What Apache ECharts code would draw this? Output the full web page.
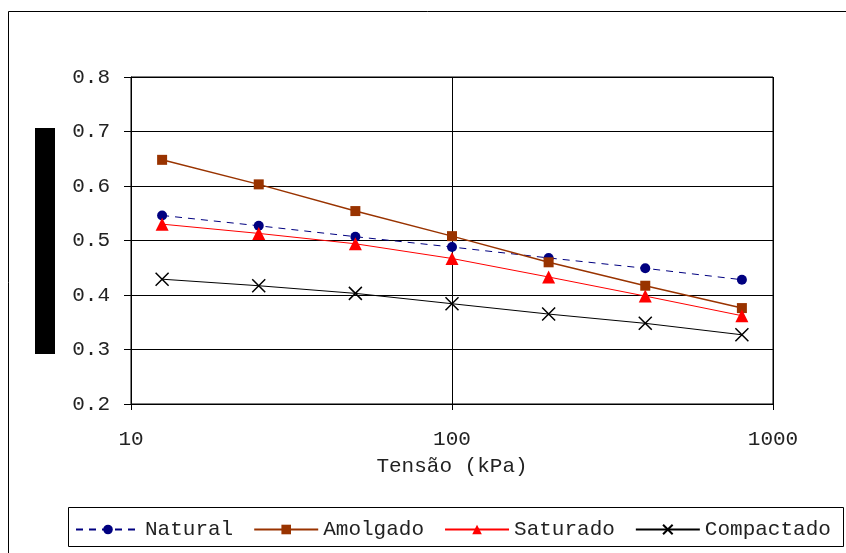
<!DOCTYPE html>
<html><head><meta charset="utf-8">
<script src="https://cdn.jsdelivr.net/npm/echarts@6/dist/echarts.min.js"></script>
<style>html,body{margin:0;padding:0;background:#fff}#c{width:846px;height:553px}</style>
</head><body><div id="c"></div>
<script>
const tensao = [12.5, 25, 50, 100, 200, 400, 800];
const natural = [0.546, 0.527, 0.507, 0.488, 0.468, 0.449, 0.428];
const amolgado = [0.648, 0.603, 0.554, 0.508, 0.460, 0.417, 0.376];
const saturado = [0.530, 0.513, 0.494, 0.467, 0.433, 0.398, 0.362];
const compactado = [0.429, 0.417, 0.403, 0.384, 0.365, 0.348, 0.327];
const seriesNames = ['Natural', 'Amolgado', 'Saturado', 'Compactado'];
const xAxisTitle = 'Tensão (kPa)';

const FONT = '"Liberation Mono", "Courier New", monospace';
const TXT = '#222';
const pairs = arr => tensao.map((x, i) => [x, arr[i]]);
const chart = echarts.init(document.getElementById('c'));
chart.setOption({
  animation: false,
  backgroundColor: '#fff',
  textStyle: { fontFamily: FONT },
  grid: { left: 131, right: 73, top: 77, bottom: 149, show: true, borderColor: '#000', borderWidth: 1 },
  xAxis: {
    type: 'log', logBase: 10, min: 10, max: 1000,
    name: xAxisTitle, nameLocation: 'middle', nameGap: 52,
    nameTextStyle: { fontFamily: FONT, fontSize: 21, color: TXT },
    axisLine: { show: true, lineStyle: { color: '#000', width: 1 } },
    axisTick: { show: true, inside: false, length: 6, lineStyle: { color: '#000' } },
    minorTick: { show: false },
    axisLabel: { fontFamily: FONT, fontSize: 21, color: TXT, margin: 25, formatter: v => String(Math.round(v)) },
    splitLine: { show: true, lineStyle: { color: '#000', width: 1 } }
  },
  yAxis: {
    type: 'value', min: 0.2, max: 0.8, interval: 0.1,
    axisLine: { show: true, lineStyle: { color: '#000', width: 1 } },
    axisTick: { show: true, inside: false, length: 7, lineStyle: { color: '#000' } },
    axisLabel: { fontFamily: FONT, fontSize: 21, color: TXT, margin: 21, formatter: v => v.toFixed(1) },
    splitLine: { show: true, lineStyle: { color: '#000', width: 1 } }
  },
  legend: {
    left: 75, top: 519, padding: 0, itemWidth: 64, itemHeight: 12, itemGap: 20,
    textStyle: { fontFamily: FONT, fontSize: 21, color: TXT },
    data: seriesNames
  },
  graphic: [
    { type: 'rect', shape: { x: 8.5, y: 11.5, width: 900, height: 700 }, style: { fill: 'none', stroke: '#000', lineWidth: 1 }, z: -1 },
    { type: 'rect', shape: { x: 68.5, y: 507.5, width: 775, height: 39 }, style: { fill: 'none', stroke: '#000', lineWidth: 1 } },
    { type: 'rect', shape: { x: 35, y: 128, width: 20, height: 226 }, style: { fill: '#000' } }
  ],
  series: [
    { name: seriesNames[0], type: 'line', data: pairs(natural), symbol: 'circle', symbolSize: 10,
      lineStyle: { color: '#000080', width: 1, type: [7, 6] }, itemStyle: { color: '#000080' } },
    { name: seriesNames[1], type: 'line', data: pairs(amolgado), symbol: 'rect', symbolSize: 10,
      lineStyle: { color: '#993300', width: 1.5 }, itemStyle: { color: '#993300' } },
    { name: seriesNames[2], type: 'line', data: pairs(saturado), symbol: 'triangle', symbolSize: 13,
      lineStyle: { color: '#ff0000', width: 1 }, itemStyle: { color: '#ff0000' } },
    { name: seriesNames[3], type: 'line', data: pairs(compactado), symbol: 'path://M0 0L10 10M10 0L0 10', symbolSize: 13,
      lineStyle: { color: '#000', width: 1 }, itemStyle: { color: '#000', borderColor: '#000', borderWidth: 1.5 } }
  ]
});
</script></body></html>
